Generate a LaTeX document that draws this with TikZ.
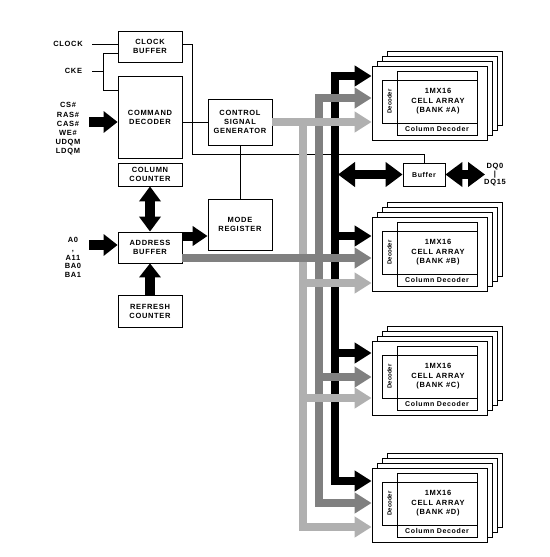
\documentclass[tikz,border=0pt]{standalone}
\usepackage{fontspec}
\setmainfont{Liberation Sans}
\newfontfamily\lblfont[LetterSpace=9]{Liberation Sans}
\newfontfamily\plainlbl{Liberation Sans}
\usetikzlibrary{arrows.meta}
\colorlet{lgray}{black!31}
\colorlet{mgray}{black!50}
\tikzset{
  sig/.style={font=\lblfont\bfseries\fontsize{7.5}{9}\selectfont, inner sep=0pt, align=center},
  smallsig/.style={font=\lblfont\bfseries\fontsize{7}{9}\selectfont, inner sep=0pt, align=center},
  decsig/.style={font=\plainlbl\bfseries\fontsize{6}{7}\selectfont, inner sep=0pt, rotate=90},
  box/.style={sig, draw, line width=0.8pt, fill=white},
  frame/.style={draw, line width=0.8pt, inner sep=0pt},
  wire/.style={line width=0.8pt},
  fat/.style={line width=10pt, -{Triangle[width=21pt,length=14pt]}},
  fatdbl/.style={line width=10pt, {Triangle[width=21pt,length=15pt]}-{Triangle[width=21pt,length=15pt]}},
  fatm/.style={line width=9pt, -{Triangle[width=19pt,length=15pt]}},
  dbl/.style={line width=9pt, {Triangle[width=24pt,length=17pt]}-{Triangle[width=24pt,length=17pt]}},
  lbar/.style={line width=8pt, draw=lgray, color=lgray},
  mbar/.style={line width=8pt, draw=mgray, color=mgray},
  kbar/.style={line width=8pt, draw=black},
  tipend/.style={-{Triangle[width=20pt,length=17pt]}},
}
\begin{document}
\begin{tikzpicture}[x=1pt,y=-1pt]
\useasboundingbox[fill=white] (0,0) rectangle (549,557);

% ---------- memory banks ----------
\foreach \n/\T in {A/66,B/217,C/341,D/468}{
  \foreach \k in {3,2,1}{
    \draw[frame, fill=white] (372+5*\k,\T-5*\k) rectangle ++(115,74);
  }
  \node[frame, fill=white, minimum width=115pt, minimum height=74pt] (bank\n) at (429.5,\T+37) {};
  \node[frame, minimum width=80pt, minimum height=64pt] (cell\n) at (437,\T+37) {};
  \node[frame, minimum width=95pt, minimum height=43pt] (dec\n) at (429.5,\T+35.5) {};
  \node[sig, font=\lblfont\bfseries\fontsize{7.5}{9.5}\selectfont] (txt\n) at (438,\T+35.5) {1MX16\\CELL ARRAY\\(BANK \#\n)};
  \node[smallsig] (col\n) at (437,\T+63) {Column Decoder};
  \node[decsig] (rdec\n) at (389.5,\T+35.5) {Decoder};
}

% ---------- blocks ----------
\node[box, minimum width=64pt, minimum height=31pt] (clkbuf) at (150,46.5) {CLOCK\\BUFFER};
\node[box, minimum width=64pt, minimum height=82pt] (cmddec) at (150,117) {COMMAND\\DECODER};
\node[box, minimum width=64pt, minimum height=23pt] (colcnt) at (150,174.5) {COLUMN\\COUNTER};
\node[box, minimum width=64pt, minimum height=31pt] (addrbuf) at (150,247.5) {ADDRESS\\BUFFER};
\node[box, minimum width=64pt, minimum height=32pt] (refcnt) at (150,311) {REFRESH\\COUNTER};
\node[box, minimum width=64pt, minimum height=46pt] (csg) at (240,122) {CONTROL\\SIGNAL\\GENERATOR};
\node[box, minimum width=64pt, minimum height=51pt] (modereg) at (240,224.5) {MODE\\REGISTER};
\node[box, smallsig, minimum width=42pt, minimum height=23pt] (buf) at (424,174.5) {Buffer};

% ---------- pin labels ----------
\node[sig] (clk) at (68,44) {CLOCK};
\node[sig] (cke) at (73.5,71) {CKE};
\node[sig, font=\lblfont\bfseries\fontsize{7.5}{9.2}\selectfont] (cmdsig) at (68,129) {CS\#\\RAS\#\\CAS\#\\WE\#\\UDQM\\LDQM};
\node[sig, font=\lblfont\bfseries\fontsize{7.5}{8.75}\selectfont] (addr) at (73,257.5) {A0\\,\\A11\\BA0\\BA1};
\node[sig, font=\lblfont\bfseries\fontsize{7.5}{8}\selectfont] (dq) at (495,175) {DQ0\\|\\DQ15};

% ---------- thin wires ----------
\coordinate (clkw) at (92,44);
\draw[wire] (clkw) -- (clkw -| clkbuf.west);
\coordinate (ckew) at (92,71);
\coordinate (ckej) at (103,71);
\coordinate (ckeu) at (103,53);
\coordinate (cked) at (103,90);
\draw[wire] (ckew) -- (ckej);
\draw[wire] (ckeu -| clkbuf.west) -- (ckeu) -- (cked) -- (cked -| cmddec.west);
\coordinate (clkturn) at (192,154);
\draw[wire] (clkbuf.east |- clkw) -| (clkturn) -| (buf.north);
\draw[wire] (cmddec.east |- csg.west) -- (csg.west);
\draw[wire] (csg.south) -- (modereg.north);

% ---------- fat black arrows (left) ----------
\coordinate (cmdin) at (89,122);
\draw[fat] (cmdin) -- (cmdin -| cmddec.west);
\coordinate (addrin) at (89,245);
\draw[fat] (addrin) -- (addrin -| addrbuf.west);
\draw[fatdbl] (colcnt.south) -- (addrbuf.north);
\draw[fat] (refcnt.north) -- (addrbuf.south);
\coordinate (amode) at (182,236);
\draw[fatm] (amode) -- (amode -| modereg.west);

% ---------- buses: vertical bars ----------
\coordinate (ltop) at (303,122);
\coordinate (lbot) at (303,527);
\coordinate (mtop) at (318.5,98);
\coordinate (mbot) at (318.5,503);
\coordinate (ktop) at (334.5,76);
\coordinate (kbot) at (334.5,481);
\draw[lbar, line cap=rect] (ltop) -- (lbot);
\draw[mbar, line cap=rect] (mtop) -- (mbot);
\draw[kbar, line cap=rect] (ktop) -- (kbot);

% ---------- buses: horizontal arrows ----------
\coordinate (kB) at (334.5,236);
\coordinate (kC) at (334.5,353);
\draw[kbar, tipend] (ktop) -- (ktop -| bankA.west);
\draw[kbar, tipend] (kB) -- (kB -| bankB.west);
\draw[kbar, tipend] (kC) -- (kC -| bankC.west);
\draw[kbar, tipend] (kbot) -- (kbot -| bankD.west);

\coordinate (mthru) at (182,258);
\coordinate (mC) at (318.5,377);
\draw[mbar, tipend] (mtop) -- (mtop -| bankA.west);
\draw[mbar, tipend] (addrbuf.east |- mthru) -- (mthru -| bankB.west);
\draw[mbar, tipend] (mC) -- (mC -| bankC.west);
\draw[mbar, tipend] (mbot) -- (mbot -| bankD.west);

\coordinate (lB) at (303,283);
\coordinate (lC) at (303,398);
\draw[lbar, tipend] (csg.east) -- (csg.east -| bankA.west);
\draw[lbar, tipend] (lB) -- (lB -| bankB.west);
\draw[lbar, tipend] (lC) -- (lC -| bankC.west);
\draw[lbar, tipend] (lbot) -- (lbot -| bankD.west);

% ---------- data buffer arrows ----------
\coordinate (kbus) at (338,174.5);
\coordinate (dqend) at (485,174.5);
\draw[dbl] (kbus) -- (buf.west);
\draw[dbl] (buf.east) -- (dqend);
\end{tikzpicture}
\end{document}
